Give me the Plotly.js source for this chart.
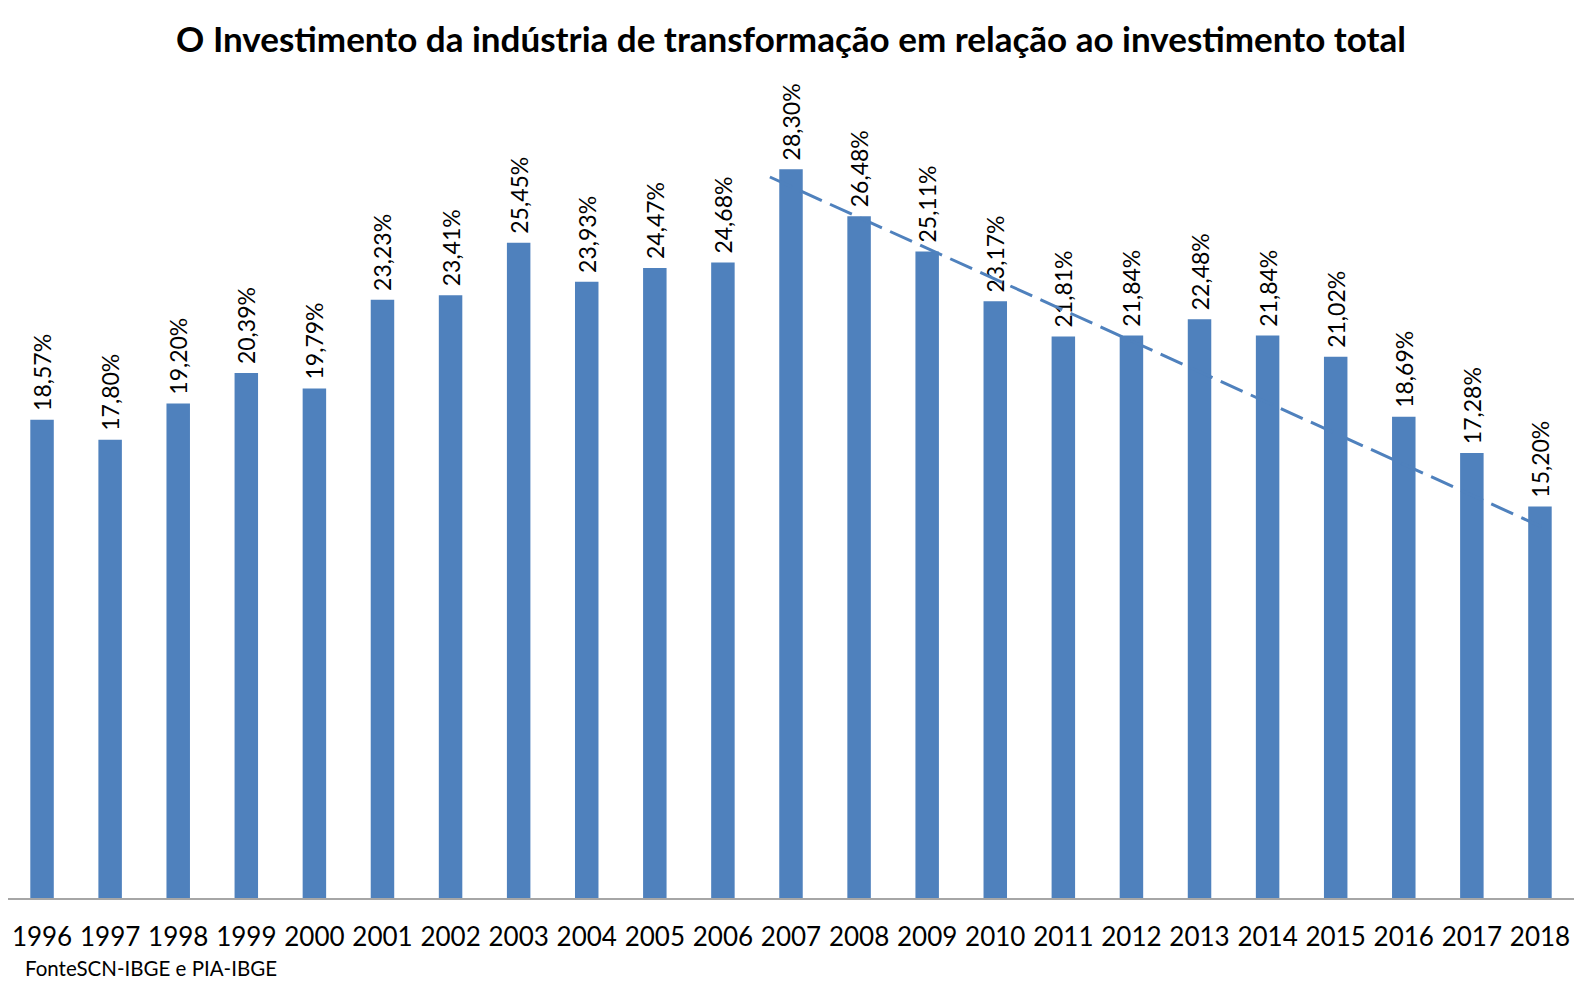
<!DOCTYPE html>
<html><head><meta charset="utf-8">
<script src="https://cdn.plot.ly/plotly-3.0.1.min.js"></script>
<style>html,body{margin:0;padding:0;background:#fff}#chart{width:1582px;height:987px}</style>
</head><body><div id="chart"></div>
<script>
const years = [1996,1997,1998,1999,2000,2001,2002,2003,2004,2005,2006,2007,2008,2009,2010,2011,2012,2013,2014,2015,2016,2017,2018];
const values = [18.57,17.80,19.20,20.39,19.79,23.23,23.41,25.45,23.93,24.47,24.68,28.30,26.48,25.11,23.17,21.81,21.84,22.48,21.84,21.02,18.69,17.28,15.20];
const trendX = [2006.69, 2018.02];
const trendY = [28.0, 14.42];
const tickLabels = years.map(String);
const labels = values.map(v => '\u00a0' + v.toFixed(2).replace('.', ',') + '%');

const font = 'Lato, "Open Sans", "Liberation Sans", sans-serif';
const data = [
  {type:'bar', x: years, y: values, text: labels, textposition:'outside', textangle:-90,
   textfont:{family:font, size:23, color:'#000'}, cliponaxis:false, constraintext:'none',
   marker:{color:'#4F81BD'}, hoverinfo:'skip'},
  {type:'scatter', mode:'lines', x: trendX, y: trendY,
   line:{color:'#4F81BD', width:3, dash:'24px,9px'}, hoverinfo:'skip'}
];
const layout = {
  width:1582, height:987, showlegend:false,
  paper_bgcolor:'#fff', plot_bgcolor:'#fff',
  margin:{l:8, r:8, t:73.5, b:88.5, autoexpand:false},
  bargap:0.655,
  title:{text:'<b>O Investimento da indústria de transformação em relação ao investimento total</b>',
    font:{family:font, size:35, color:'#000'}, xref:'container', x:0.5, xanchor:'center',
    yref:'container', y:1-40/987, yanchor:'middle'},
  xaxis:{range:[1995.5, 2018.5], tickvals: years, ticktext: tickLabels, showgrid:false, zeroline:false,
    automargin:false,
    showline:true, linecolor:'#A6A6A6', linewidth:2, ticks:'outside', ticklen:14.5, tickcolor:'rgba(0,0,0,0)',
    tickfont:{family:font, size:26, color:'#000'}, fixedrange:true},
  yaxis:{range:[0,32], visible:false, showgrid:false, zeroline:false, fixedrange:true, automargin:false},
  annotations:[{text:'FonteSCN-IBGE e PIA-IBGE', xref:'paper', yref:'paper', x:0, y:0,
    xshift:15, yshift:-70, xanchor:'left', yanchor:'middle', showarrow:false,
    font:{family:font, size:20.5, color:'#000'}}]
};
Plotly.newPlot('chart', data, layout, {displayModeBar:false, staticPlot:true});
</script></body></html>
